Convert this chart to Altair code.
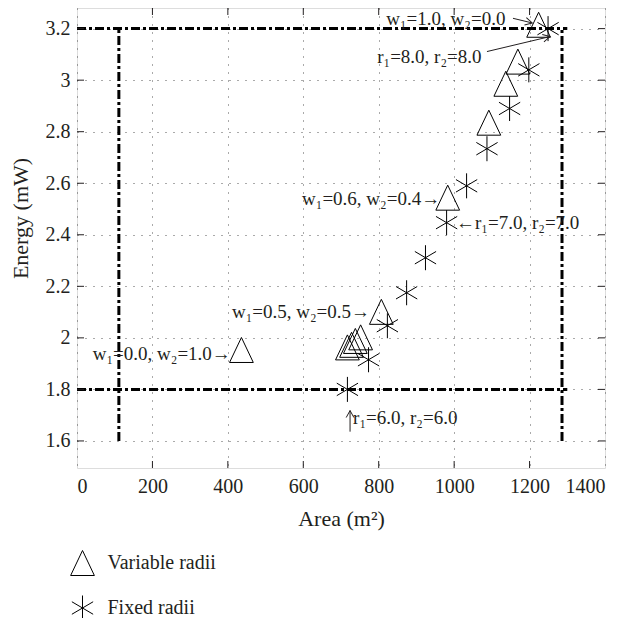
import altair as alt
import pandas as pd

FONT = "Liberation Serif"
INK = "#231f20"

# ---- data ----
x_ticks = [0, 200, 400, 600, 800, 1000, 1200, 1400]
y_ticks = [1.6, 1.8, 2.0, 2.2, 2.4, 2.6, 2.8, 3.0, 3.2]

tri_area = [436, 717, 728, 738, 752, 807, 983, 1092, 1137, 1169, 1224]
tri_energy = [1.953, 1.963, 1.973, 1.988, 2.002, 2.101, 2.544, 2.835, 2.986, 3.072, 3.215]

star_area = [717, 773, 823, 874, 924, 980, 1033, 1087, 1147, 1198, 1249]
star_energy = [1.80, 1.915, 2.047, 2.175, 2.311, 2.447, 2.59, 2.734, 2.89, 3.04, 3.20]

series_names = ["Variable radii", "Fixed radii"]

# dash-dot bounding lines
seg_x1 = [0, 0, 111, 1286]
seg_y1 = [3.2, 1.8, 1.6, 1.6]
seg_x2 = [1300, 1300, 111, 1286]
seg_y2 = [3.2, 1.8, 3.2, 3.2]

# annotations (left aligned)
annL_text = ["w₁=1.0, w₂=0.0", "r₁=8.0, r₂=8.0", "←r₁=7.0, r₂=7.0", "r₁=6.0, r₂=6.0"]
annL_x = [820, 796, 1005, 732]
annL_y = [3.238, 3.091, 2.447, 1.690]
# annotations (right aligned)
annR_text = ["w₁=0.6, w₂=0.4→", "w₁=0.5, w₂=0.5→", "w₁=0.0, w₂=1.0→"]
annR_x = [963, 777, 408]
annR_y = [2.540, 2.102, 1.939]

# arrow lines
arr_x1 = [1156, 1087, 724]
arr_y1 = [3.240, 3.111, 1.636]
arr_x2 = [1207, 1254, 724]
arr_y2 = [3.222, 3.169, 1.718]
arr_angle = [14, 347, 270]

TRI = "M0,-1L-0.95,1L0.95,1Z"
STAR = "M0,-1L0,1M-0.85,-0.5L0.85,0.5M-0.85,0.5L0.85,-0.5"
HEAD = "M-1,-0.55L0,0L-1,0.55"

W, H = 528, 460

points = pd.DataFrame({
    "x": tri_area + star_area,
    "y": tri_energy + star_energy,
    "series": [series_names[0]] * len(tri_area) + [series_names[1]] * len(star_area),
})
segs = pd.DataFrame({"x": seg_x1, "y": seg_y1, "x2": seg_x2, "y2": seg_y2})
annL = pd.DataFrame({"x": annL_x, "y": annL_y, "t": annL_text})
annR = pd.DataFrame({"x": annR_x, "y": annR_y, "t": annR_text})
arrows = pd.DataFrame({"x": arr_x1, "y": arr_y1, "x2": arr_x2, "y2": arr_y2, "a": arr_angle})
xt = pd.DataFrame({"x": x_ticks[1:-1]})
yt = pd.DataFrame({"y": y_ticks})

xs = alt.Scale(domain=[0, 1400], nice=False, zero=False)
ys = alt.Scale(domain=[1.495, 3.28], nice=False, zero=False)

x_axis = alt.Axis(values=x_ticks, format="d", title="Area (m²)", grid=True,
                  gridDash=[1, 7], gridColor="#555", gridWidth=1, ticks=False, domain=False,
                  labelPadding=8, labelFontSize=20, labelFont=FONT, labelColor=INK,
                  titleFont=FONT, titleFontSize=22, titleFontWeight="normal", titleColor=INK,
                  titleX=264, titleY=50, titleBaseline="middle", titleAlign="center")
y_axis = alt.Axis(values=y_ticks, format=".1~f", title="Energy (mW)", grid=True,
                  gridDash=[1, 7], gridColor="#555", gridWidth=1, ticks=False, domain=False,
                  labelPadding=7, labelFontSize=20, labelFont=FONT, labelColor=INK,
                  titleFont=FONT, titleFontSize=22, titleFontWeight="normal", titleColor=INK,
                  titleX=-57, titleY=210, titleBaseline="middle", titleAlign="center", titleAngle=270)


def X(field):
    return alt.X(field, scale=xs, axis=x_axis, title="Area (m²)")


def Y(field):
    return alt.Y(field, scale=ys, axis=y_axis, title="Energy (mW)")


pts = alt.Chart(points).mark_point(filled=False, stroke="black", strokeWidth=1, size=625, opacity=1).encode(
    x=X("x:Q"),
    y=Y("y:Q"),
    shape=alt.Shape("series:N",
                    scale=alt.Scale(domain=series_names, range=[TRI, STAR]),
                    legend=alt.Legend(orient="none", legendX=-7.5, legendY=542, title=None,
                                      symbolSize=625, symbolStrokeColor="black",
                                      symbolFillColor="transparent", symbolStrokeWidth=1,
                                      labelFontSize=20, labelFont=FONT, labelColor=INK,
                                      labelOffset=12, rowPadding=15, padding=0)),
)

lines = alt.Chart(segs).mark_rule(color="black", strokeWidth=3, strokeDash=[9, 3, 3, 3]).encode(
    x=X("x:Q"), y=Y("y:Q"), x2="x2:Q", y2="y2:Q")

arr_lines = alt.Chart(arrows).mark_rule(color=INK, strokeWidth=1).encode(
    x=X("x:Q"), y=Y("y:Q"), x2="x2:Q", y2="y2:Q")
arr_heads = alt.Chart(arrows).mark_point(shape=HEAD, filled=False, stroke=INK, strokeWidth=1,
                                         size=196, opacity=1).encode(
    x=X("x2:Q"), y=Y("y2:Q"), angle=alt.Angle("a:Q", scale=None))

txtL = alt.Chart(annL).mark_text(align="left", baseline="middle", font=FONT, fontSize=19, color=INK).encode(
    x=X("x:Q"), y=Y("y:Q"), text="t:N")
txtR = alt.Chart(annR).mark_text(align="right", baseline="middle", font=FONT, fontSize=19, color=INK).encode(
    x=X("x:Q"), y=Y("y:Q"), text="t:N")

tick_b = alt.Chart(xt).mark_rule(color=INK, strokeWidth=1).encode(
    x=X("x:Q"), y=alt.value(H), y2=alt.value(H - 7))
tick_t = alt.Chart(xt).mark_rule(color=INK, strokeWidth=1).encode(
    x=X("x:Q"), y=alt.value(0), y2=alt.value(7))
tick_l = alt.Chart(yt).mark_rule(color=INK, strokeWidth=1).encode(
    y=Y("y:Q"), x=alt.value(0), x2=alt.value(7))
tick_r = alt.Chart(yt).mark_rule(color=INK, strokeWidth=1).encode(
    y=Y("y:Q"), x=alt.value(W), x2=alt.value(W - 7))

chart = alt.layer(pts, lines, arr_lines, arr_heads, txtL, txtR, tick_b, tick_t, tick_l, tick_r).properties(
    width=W, height=H,
    autosize=alt.AutoSizeParams(type="none"),
    padding={"left": 69, "top": 0, "right": 10, "bottom": 150},
).configure_view(stroke=INK, strokeWidth=1.2).configure(background="white")

chart.save("out.html", embed_options={"renderer": "svg", "actions": False})
